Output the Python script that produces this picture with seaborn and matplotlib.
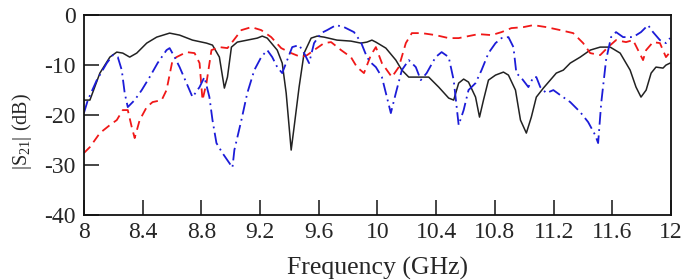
import seaborn as sns
import matplotlib.pyplot as plt

# frequency (GHz) / |S21| (dB)
freq_black = [8.000, 8.041, 8.109, 8.177, 8.224, 8.265, 8.312, 8.360, 8.428, 8.496,
              8.584, 8.652, 8.740, 8.835, 8.876, 8.923, 8.957, 8.978, 9.005, 9.045,
              9.113, 9.181, 9.215, 9.249, 9.317, 9.351, 9.378, 9.412, 9.432, 9.466,
              9.500, 9.548, 9.589, 9.636, 9.724, 9.819, 9.887, 9.928, 9.962, 9.989,
              10.057, 10.125, 10.166, 10.213, 10.281, 10.349, 10.417, 10.485, 10.519, 10.553,
              10.587, 10.620, 10.668, 10.695, 10.722, 10.756, 10.804, 10.858, 10.892, 10.940,
              10.974, 11.014, 11.048, 11.082, 11.130, 11.177, 11.218, 11.266, 11.313, 11.381,
              11.449, 11.517, 11.585, 11.653, 11.721, 11.761, 11.795, 11.830, 11.864, 11.897,
              11.945, 11.965, 11.993]
s21_black = [-17.0, -17.0, -11.6, -8.4, -7.4, -7.6, -8.4, -7.6, -5.6, -4.4,
             -3.6, -4.0, -5.0, -5.6, -6.0, -8.4, -14.6, -12.4, -6.4, -5.4,
             -5.0, -4.6, -4.2, -4.6, -7.0, -9.6, -15.6, -27.0, -22.4, -14.4,
             -7.6, -4.6, -4.2, -4.4, -5.0, -5.2, -5.6, -5.4, -5.0, -5.4,
             -6.6, -9.0, -11.0, -12.4, -12.4, -12.4, -14.4, -16.6, -17.0, -13.6,
             -12.8, -13.4, -16.4, -20.4, -17.0, -13.0, -12.0, -11.4, -12.0, -15.0,
             -21.0, -23.6, -20.4, -16.4, -14.6, -13.0, -11.6, -11.0, -9.6, -8.4,
             -7.0, -6.4, -6.4, -7.6, -11.0, -14.4, -16.4, -15.0, -11.6, -10.4,
             -10.6, -10.0, -9.6]

freq_red = [8.000, 8.041, 8.109, 8.177, 8.224, 8.265, 8.299, 8.326, 8.346, 8.380,
            8.428, 8.468, 8.530, 8.563, 8.604, 8.631, 8.699, 8.754, 8.788, 8.808,
            8.835, 8.869, 8.923, 8.978, 9.005, 9.073, 9.141, 9.208, 9.276, 9.344,
            9.412, 9.480, 9.521, 9.568, 9.636, 9.684, 9.752, 9.819, 9.860, 9.908,
            9.955, 9.989, 10.030, 10.098, 10.145, 10.193, 10.234, 10.301, 10.396, 10.485,
            10.553, 10.620, 10.688, 10.777, 10.845, 10.912, 10.994, 11.062, 11.150, 11.245,
            11.333, 11.401, 11.449, 11.517, 11.571, 11.625, 11.693, 11.741, 11.775, 11.809,
            11.830, 11.877, 11.924, 11.965, 11.993]
s21_red = [-27.6, -26.4, -23.6, -22.0, -21.0, -19.0, -19.0, -22.4, -24.6, -21.0,
           -18.4, -17.4, -17.0, -15.0, -9.0, -8.4, -7.4, -7.6, -9.6, -17.0,
           -13.6, -7.0, -6.4, -6.6, -5.6, -3.0, -2.4, -3.0, -4.4, -6.6,
           -7.6, -8.4, -8.0, -7.0, -5.6, -5.4, -7.0, -8.4, -10.4, -11.6,
           -8.0, -6.4, -9.6, -12.4, -10.4, -5.6, -3.6, -3.6, -4.0, -4.6,
           -4.6, -4.2, -3.8, -4.0, -3.4, -2.6, -2.4, -2.0, -2.4, -3.0,
           -3.6, -5.6, -7.6, -8.0, -6.4, -5.0, -5.4, -5.0, -7.0, -9.0,
           -7.0, -5.4, -5.6, -8.4, -7.4]

freq_blue = [8.000, 8.027, 8.088, 8.156, 8.197, 8.231, 8.258, 8.278, 8.299, 8.346,
             8.394, 8.448, 8.502, 8.563, 8.584, 8.618, 8.652, 8.699, 8.740, 8.788,
             8.821, 8.855, 8.876, 8.903, 8.944, 8.991, 9.012, 9.025, 9.073, 9.113,
             9.161, 9.208, 9.249, 9.283, 9.317, 9.351, 9.385, 9.419, 9.466, 9.500,
             9.534, 9.568, 9.616, 9.657, 9.718, 9.772, 9.840, 9.887, 9.928, 9.955,
             9.989, 10.030, 10.064, 10.091, 10.125, 10.166, 10.213, 10.261, 10.295, 10.335,
             10.396, 10.437, 10.485, 10.519, 10.553, 10.587, 10.620, 10.668, 10.709, 10.756,
             10.804, 10.845, 10.892, 10.926, 10.946, 10.981, 11.028, 11.062, 11.082, 11.109,
             11.150, 11.198, 11.245, 11.313, 11.381, 11.435, 11.483, 11.503, 11.524, 11.557,
             11.591, 11.625, 11.673, 11.741, 11.795, 11.843, 11.877, 11.924, 11.965, 11.993]
s21_blue = [-19.6, -17.0, -13.0, -9.6, -8.0, -8.4, -11.0, -15.6, -18.4, -17.0,
            -15.0, -12.4, -9.6, -7.0, -6.6, -8.4, -10.4, -13.6, -16.4, -14.4,
            -12.4, -16.4, -21.0, -25.6, -27.6, -29.6, -30.5, -27.0, -21.0, -15.6,
            -11.0, -8.4, -7.0, -8.4, -10.4, -11.6, -9.0, -6.4, -6.0, -7.6,
            -9.6, -5.6, -3.6, -3.0, -2.0, -2.4, -3.4, -5.4, -8.4, -9.5,
            -10.4, -12.4, -16.4, -19.6, -15.6, -11.0, -9.0, -10.4, -13.0, -11.6,
            -8.4, -7.4, -8.4, -13.0, -22.0, -19.0, -15.0, -13.6, -11.0, -7.6,
            -5.6, -4.6, -4.4, -6.4, -11.6, -12.6, -14.4, -12.4, -12.4, -14.4,
            -15.6, -15.0, -16.0, -17.4, -19.4, -21.4, -24.0, -25.6, -17.6, -9.0,
            -4.4, -3.4, -4.4, -4.4, -3.4, -2.0, -3.4, -5.0, -5.6, -4.6]

x_ticks = [8, 8.4, 8.8, 9.2, 9.6, 10, 10.4, 10.8, 11.2, 11.6, 12]
x_labels = ['8', '8.4', '8.8', '9.2', '9.6', '10', '10.4', '10.8', '11.2', '11.6', '12']
y_ticks = [-40, -30, -20, -10, 0]

sns.set_style('ticks')
plt.rcParams['font.family'] = ['Liberation Serif', 'DejaVu Serif']
plt.rcParams['mathtext.fontset'] = 'custom'
plt.rcParams['mathtext.rm'] = 'Liberation Serif'
plt.rcParams['axes.unicode_minus'] = False

fig = plt.figure(figsize=(6.82, 2.80), dpi=100)
ax = fig.add_axes([0.123, 0.232, 0.861, 0.714])

sns.lineplot(x=freq_black, y=s21_black, ax=ax, color='#222222', lw=1.1,
             estimator=None, sort=False)
sns.lineplot(x=freq_red, y=s21_red, ax=ax, color='#f01818', lw=1.3,
             estimator=None, sort=False, linestyle=(0, (5, 3)))
sns.lineplot(x=freq_blue, y=s21_blue, ax=ax, color='#1c1cd8', lw=1.3,
             estimator=None, sort=False, linestyle=(0, (7, 2.5, 1, 2.5)))

ax.set_xlim(8, 12)
ax.set_ylim(-40, 0)
ax.set_xticks(x_ticks)
ax.set_xticklabels(x_labels)
ax.set_yticks(y_ticks)
ax.tick_params(direction='in', length=11, width=1.2, labelsize=17,
               top=False, right=False)
ax.tick_params(axis='x', pad=5)
ax.tick_params(axis='y', pad=6)
for s in ax.spines.values():
    s.set_linewidth(1.3)
    s.set_color('#111111')

ax.set_xlabel('Frequency (GHz)', fontsize=18.5, labelpad=10)
ax.set_ylabel(r'|S$\mathregular{_{21}}$| (dB)', fontsize=14.5)
ax.yaxis.set_label_coords(-0.085, 0.42)

fig.savefig('out.png', dpi=100)
